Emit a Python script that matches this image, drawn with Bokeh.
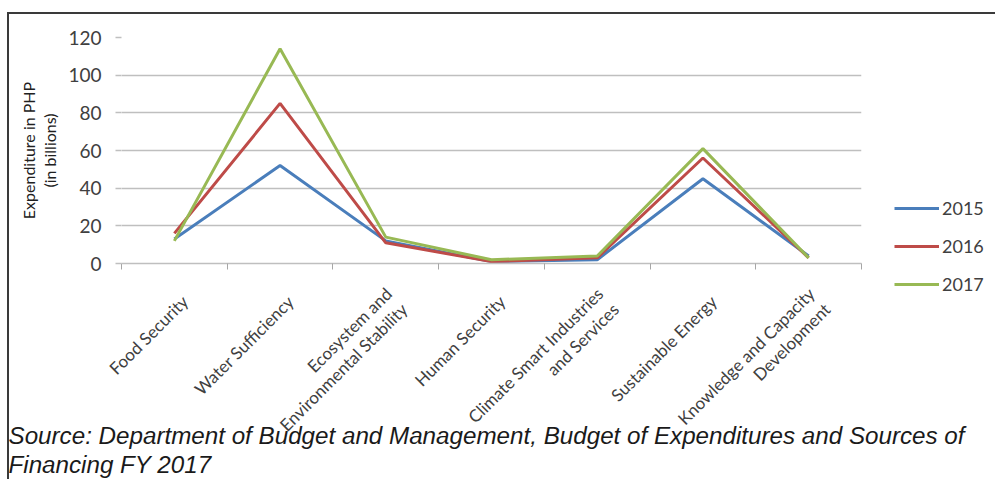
import math
from bokeh.plotting import figure
from bokeh.models import Range1d, FixedTicker, Legend, LegendItem, Title
from bokeh.embed import file_html
from bokeh.resources import INLINE

categories = ["Food Security", "Water Sufficiency", "Ecosystem and\nEnvironmental Stability",
              "Human Security", "Climate Smart Industries\nand Services", "Sustainable Energy",
              "Knowledge and Capacity\nDevelopment"]
years = ["2015", "2016", "2017"]
v2015 = [13, 52, 12, 1, 2, 45, 4]
v2016 = [16, 85, 11, 1, 3, 56, 3]
v2017 = [12, 114, 14, 2, 4, 61, 3]
y_ticks = [0, 20, 40, 60, 80, 100, 120]
colors = ["#4a7ebb", "#be4b48", "#98b954"]
source_text = ("Source: Department of Budget and Management, Budget of Expenditures and Sources of\n"
               "Financing FY 2017")

n = len(categories)
centers = [i + 0.5 for i in range(n)]
bounds = [float(i) for i in range(n + 1)]
label_shift = 0.1  # small visual shift of the rotated category labels
label_pos = [c + label_shift for c in centers]

p = figure(frame_width=740, frame_height=226, output_backend="svg", toolbar_location=None,
           x_range=Range1d(0, n), y_range=Range1d(0, 120),
           min_border_left=112, min_border_right=125, min_border_top=23, min_border_bottom=216)
p.outline_line_color = None
p.background_fill_color = "white"
p.border_fill_color = "white"
p.styles = {"border-top": "2px solid #3a3a3a", "border-left": "2px solid #3a3a3a",
            "margin-top": "12px", "margin-left": "7px"}

renderers = []
for vals, col in zip([v2015, v2016, v2017], colors):
    r = p.line(centers, vals, line_color=col, line_width=3)
    renderers.append(r)

# x axis
xa = p.xaxis[0]
xa.ticker = FixedTicker(ticks=label_pos, minor_ticks=bounds)
xa.major_label_overrides = {c: lab for c, lab in zip(label_pos, categories)}
xa.major_tick_line_color = None
xa.minor_tick_line_color = "#a6a6a6"
xa.minor_tick_in = 0
xa.minor_tick_out = 6
xa.axis_line_color = "#bfbfbf"
xa.axis_line_width = 1.5
xa.major_label_orientation = math.pi / 4
xa.major_label_text_font = "Lato"
xa.major_label_text_font_size = "17px"
xa.major_label_text_color = "#404040"
xa.major_label_text_line_height = 1.05
xa.major_label_standoff = 29

# y axis
ya = p.yaxis[0]
ya.ticker = FixedTicker(ticks=y_ticks)
ya.axis_line_color = None
ya.major_tick_line_color = "#bfbfbf"
ya.major_tick_line_width = 1.5
ya.major_tick_in = 0
ya.major_tick_out = 6
ya.minor_tick_line_color = None
ya.major_label_text_font = "Lato"
ya.major_label_text_font_size = "19px"
ya.major_label_text_color = "#404040"
ya.major_label_standoff = 14
ya.axis_label = "Expenditure in PHP\n(in billions)"
ya.axis_label_text_font = "Lato"
ya.axis_label_text_font_size = "16px"
ya.axis_label_text_font_style = "normal"
ya.axis_label_text_color = "#202020"
ya.axis_label_text_line_height = 1.15
ya.axis_label_standoff = 6

p.xgrid.grid_line_color = None
p.ygrid.grid_line_color = "#bfbfbf"
p.ygrid.grid_line_width = 1.5

legend = Legend(items=[LegendItem(label=y, renderers=[r]) for y, r in zip(years, renderers)],
                location=(33, -32), orientation="vertical",
                glyph_width=45, glyph_height=20, label_height=20, spacing=16,
                label_standoff=3, padding=0, margin=0,
                label_text_font="Lato", label_text_font_size="18px", label_text_color="#404040",
                border_line_color=None, background_fill_alpha=0)
p.add_layout(legend, "right")

cap = Title(text=source_text, align="left", vertical_align="top", offset=-113,
            text_font="Liberation Sans", text_font_size="24.2px", text_font_style="italic",
            text_color="#1a1a1a", text_line_height=1.1, standoff=-82)
p.add_layout(cap, "below")

open("out.html", "w").write(file_html(p, INLINE))
